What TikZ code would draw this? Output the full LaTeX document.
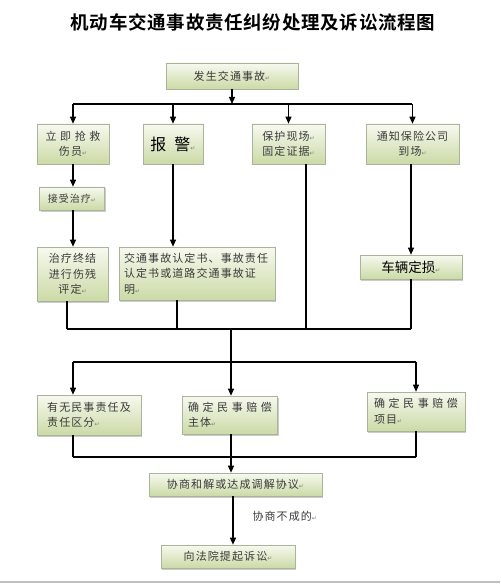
\documentclass[tikz,border=0pt]{standalone}
\usepackage{fontspec}
\usetikzlibrary{arrows.meta,shadows}
\setmainfont{Noto Sans CJK SC}
\newfontfamily\boxf[LetterSpace=10]{Noto Sans CJK SC}
\newfontfamily\titlef[LetterSpace=4]{Noto Sans CJK SC Bold}
\newfontfamily\symf{DejaVu Sans}
\definecolor{boxtop}{HTML}{F7F9EF}
\definecolor{boxbot}{HTML}{CBDAA6}
\definecolor{boxline}{HTML}{A9B49A}
\definecolor{txt}{HTML}{3A3A3A}
\newcommand\retmk{{\symf\fontsize{6}{6}\selectfont\color{gray}↵}}
\tikzset{
  box/.style={draw=boxline, line width=0.6pt, top color=boxtop, bottom color=boxbot,
    drop shadow={shadow xshift=1.3pt, shadow yshift=-1.5pt, fill=black!40, opacity=0.5},
    inner sep=2pt, text=txt, font=\boxf\fontsize{11}{15.5}\selectfont},
  ln/.style={line width=1.2pt, black},
  arr/.style={ln, -{Triangle[length=7pt,width=6pt]}}
}
\begin{document}
\begin{tikzpicture}[x=1pt,y=-1pt]
\useasboundingbox (0,0) rectangle (500,585);
\fill[white] (0,0) rectangle (500,585);
\draw[black!25, line width=2pt] (0,582) -- (500,582);

\node[font=\titlef\fontsize{18.5}{20}\selectfont] (title) at (253,22) {机动车交通事故责任纠纷处理及诉讼流程图};

% row 1
\node[box, minimum width=132pt, minimum height=26pt] (A) at (232,76) {发生交通事故\retmk};
% row 2
\node[box, minimum width=72pt, minimum height=40pt, align=center] (B1) at (73,144) {立 即 抢 救\\伤员\retmk};
\node[box, minimum width=60pt, minimum height=40pt, text=black, font=\fontsize{16}{18}\selectfont] (B2) at (173,144) {报\hspace{8pt}警\retmk};
\node[box, minimum width=73pt, minimum height=40pt, align=center] (B3) at (288.5,144) {保护现场\retmk\\固定证据\retmk};
\node[box, minimum width=93pt, minimum height=40pt, align=center] (B4) at (412.5,144) {通知保险公司\\到场\retmk};
% row 3
\node[box, minimum width=65pt, minimum height=23pt, font=\boxf\fontsize{10}{12}\selectfont] (C1) at (72,198.5) {接受治疗\retmk};
\node[box, minimum width=71pt, minimum height=54pt, align=center] (D1) at (72.5,274) {治疗终结\\进行伤残\\评定\retmk};
\node[box, minimum width=156pt, minimum height=53pt, align=left, text width=146pt] (D2) at (197,273.5) {交通事故认定书、事故责任\\认定书或道路交通事故证\\明\retmk};
\node[box, minimum width=102pt, minimum height=24pt, text=black, font=\fontsize{13.5}{15}\selectfont] (D4) at (411,267) {车辆定损\retmk};
% row 4
\node[box, minimum width=104pt, minimum height=40pt, align=left] (E1) at (89,415) {有无民事责任及\\责任区分\retmk};
\node[box, minimum width=95pt, minimum height=38pt, align=left] (E2) at (230,415) {确 定 民 事 赔 偿\\主体\retmk};
\node[box, minimum width=98pt, minimum height=39pt, align=left] (E3) at (416,411.5) {确 定 民 事 赔 偿\\项目\retmk};
% row 5
\node[box, minimum width=173pt, minimum height=23pt] (F) at (235.5,484.5) {协商和解或达成调解协议\retmk};
\node[box, minimum width=134pt, minimum height=23pt] (G) at (228,556.5) {向法院提起诉讼\retmk};
\node[anchor=west, text=txt, font=\boxf\fontsize{11}{13}\selectfont] (lab) at (249,516) {协商不成的\retmk};

% bus 1
\coordinate (t1) at (73,104);
\coordinate (t4) at (412,104);
\draw[ln] (t1) -- (t4);
\draw[arr] (A.south) -- (A.south |- t1);
\draw[arr] (B1.north |- t1) -- (B1.north);
\draw[arr] (B2.north |- t1) -- (B2.north);
\draw[arr] (B3.north |- t1) -- (B3.north);
\draw[arr] (B4.north |- t1) -- (B4.north);

% column flows
\draw[arr] (B1.south) -- (B1.south |- C1.north);
\draw[arr] (C1.south -| B1.south) -- (B1.south |- D1.north);
\draw[arr] (B2.south) -- (B2.south |- D2.north);
\draw[arr] (B4.south -| D4.north) -- (D4.north);

% bus 2
\coordinate (k1) at (67,329);
\coordinate (k2) at (177,329);
\coordinate (k3) at (306,329);
\coordinate (k4) at (411,329);
\coordinate (m) at (231,329);
\draw[ln] (k1) -- (k4);
\draw[ln] (k1 |- D1.south) -- (k1);
\draw[ln] (k2 |- D2.south) -- (k2);
\draw[ln] (k3 |- B3.south) -- (k3);
\draw[ln] (D4.south) -- (k4);

% bus 3
\coordinate (p1) at (73,362);
\coordinate (p3) at (416,362);
\draw[ln] (m) -- (m |- p1);
\draw[ln] (p1) -- (p3);
\draw[arr] (p1) -- (p1 |- E1.north);
\draw[arr] (m |- p1) -- (m |- E2.north);
\draw[arr] (p3) -- (E3.north);

% bus 4
\coordinate (q1) at (73,457);
\coordinate (q3) at (416,457);
\draw[ln] (q1) -- (q3);
\draw[ln] (q1 |- E1.south) -- (q1);
\draw[ln] (m |- E2.south) -- (m |- q1);
\draw[ln] (E3.south) -- (q3);
\draw[arr] (m |- q1) -- (m |- F.north);

\coordinate (r) at (233,500);
\draw[arr] (r |- F.south) -- (r |- G.north);
\end{tikzpicture}
\end{document}
